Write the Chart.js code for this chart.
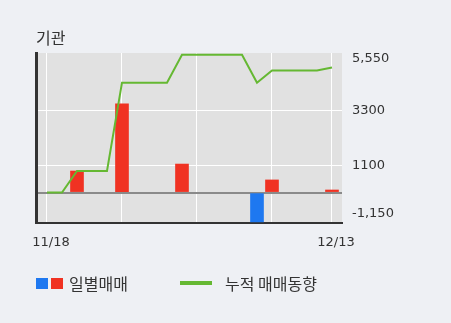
<!DOCTYPE html>
<html><head><meta charset="utf-8">
<script src="https://cdn.jsdelivr.net/npm/chart.js@4/dist/chart.umd.min.js"></script>
<style>
html,body{margin:0;padding:0;background:#eef0f4;}
#wrap{position:relative;width:451px;height:323px;overflow:hidden;font-family:"Noto Sans CJK KR","DejaVu Sans",sans-serif;color:#333;}
#c{position:absolute;left:0;top:0;}
.t{position:absolute;white-space:nowrap;line-height:20px;font-size:16px;}
.sq{position:absolute;width:12px;height:11px;}
</style></head>
<body>
<div id="wrap">
<canvas id="c" width="451" height="323"></canvas>
<div class="t" id="title" style="left:36px;top:27px;"></div>
<div class="sq" style="left:36px;top:278px;background:#1e78f0;"></div>
<div class="sq" style="left:51px;top:278px;background:#f03222;"></div>
<div class="t" id="lg1" style="left:69px;top:273px;"></div>
<div style="position:absolute;left:180px;top:281px;width:32px;height:4px;background:#65b832;"></div>
<div class="t" id="lg2" style="left:225px;top:273px;"></div>
</div>
<script>
const titleText = '기관';
const legendDaily = '일별매매';
const legendCum = '누적 매매동향';
const dates = ['11/18','11/19','11/20','11/21','11/22','11/25','11/26','11/27','11/28','11/29','12/02','12/03','12/04','12/05','12/06','12/09','12/10','12/11','12/12','12/13'];
const daily = [0,0,870,0,0,3580,0,0,0,1150,0,0,0,0,-1180,510,0,0,0,105];
const cumulative = [0,0,870,870,870,4430,4430,4430,4430,5550,5550,5550,5550,5550,4430,4920,4920,4920,4920,5040];
const yTickLabels = ['5,550','3300','1100','','-1,150'];
const yTickPos = [5383,3300,1100,0,-862];
const xGridIdx = [0,5,10,15,19];
const xLabelIdx = [0,19];

document.getElementById('title').textContent = titleText;
document.getElementById('lg1').textContent = legendDaily;
document.getElementById('lg2').textContent = legendCum;

const numFont = {family:'"DejaVu Sans", sans-serif', size:13};

const plotBg = {
  id:'plotBg',
  beforeDraw(chart){
    const a = chart.chartArea, ctx = chart.ctx;
    ctx.save(); ctx.fillStyle = '#e1e1e1';
    ctx.fillRect(a.left, a.top, a.right - a.left, a.bottom - a.top);
    ctx.restore();
  }
};

new Chart(document.getElementById('c'), {
  data: {
    datasets: [
      {type:'line', data: cumulative.map((v,i)=>({x:i,y:v})), borderColor:'#65b832', borderWidth:2, pointRadius:0, tension:0, order:0, yAxisID:'y'},
      {type:'bar', data: daily.map((v,i)=>({x:i,y: v===0 ? null : v})), backgroundColor: daily.map(v=> v>=0 ? '#f03222' : '#1e78f0'), barThickness:13, order:1, yAxisID:'y'}
    ]
  },
  options: {
    responsive:false, animation:false,
    layout:{padding:{left:36, top:53, right:0, bottom:0}},
    plugins:{legend:{display:false}, tooltip:{enabled:false}},
    scales:{
      x:{type:'linear', min:-0.733, max:19.667, offset:false,
        afterBuildTicks: s => { s.ticks = xGridIdx.map(v=>({value:v})); },
        afterFit: s => { s.height = 100; },
        ticks:{autoSkip:false, maxRotation:0, padding:12, labelOffset:4, font:numFont, color:'#333',
          callback: v => xLabelIdx.includes(v) ? dates[v] : ''},
        grid:{color:'#ffffff', lineWidth:1, drawTicks:false, offset:false},
        border:{display:true, color:'#333', width:2}
      },
      y:{position:'right', min:-1225, max:5625,
        afterBuildTicks: s => { s.ticks = yTickPos.map(v=>({value:v})); },
        afterFit: s => { s.width = 109; },
        ticks:{padding:10, font:numFont, color:'#333',
          callback: (v) => { const i = yTickPos.indexOf(v); return i>=0 ? yTickLabels[i] : ''; }},
        grid:{drawTicks:false,
          color: ctx => { const v = ctx.tick ? ctx.tick.value : null; if (v===0) return '#8a8a8a'; if (v===3300||v===1100) return '#ffffff'; return 'rgba(0,0,0,0)'; },
          lineWidth: ctx => (ctx.tick && ctx.tick.value===0) ? 2 : 1},
        border:{display:false}
      },
      yl:{position:'left', min:-1225, max:5625, display:true,
        afterFit: s => { s.width = 0; },
        ticks:{display:false}, grid:{display:false, drawTicks:false},
        border:{display:true, color:'#333', width:3}
      }
    }
  },
  plugins:[plotBg]
});
</script>
</body></html>
